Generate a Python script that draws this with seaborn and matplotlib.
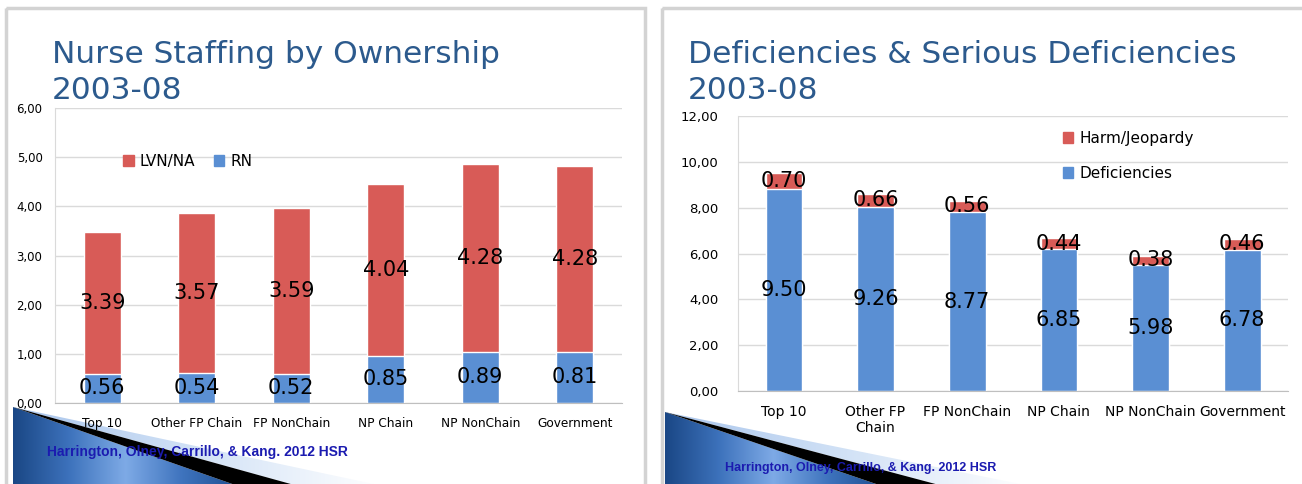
import numpy as np
import pandas as pd
import seaborn as sns
import matplotlib.pyplot as plt
from matplotlib.patches import Patch, Polygon, Rectangle
from matplotlib.colors import LinearSegmentedColormap

# --- data ---
staff_cats = ['Top 10', 'Other FP Chain', 'FP NonChain', 'NP Chain', 'NP NonChain', 'Government']
rn_bar = [0.59, 0.62, 0.59, 0.96, 1.04, 1.04]
lvn_bar = [2.88, 3.24, 3.38, 3.49, 3.83, 3.79]
rn_labels = ['0.56', '0.54', '0.52', '0.85', '0.89', '0.81']
lvn_labels = ['3.39', '3.57', '3.59', '4.04', '4.28', '4.28']

def_cats = ['Top 10', 'Other FP\nChain', 'FP NonChain', 'NP Chain', 'NP NonChain', 'Government']
def_bar = [8.81, 8.04, 7.80, 6.20, 5.50, 6.17]
harm_bar = [0.70, 0.57, 0.51, 0.46, 0.39, 0.46]
def_labels = ['9.50', '9.26', '8.77', '6.85', '5.98', '6.78']
harm_labels = ['0.70', '0.66', '0.56', '0.44', '0.38', '0.46']

staff_title = ['Nurse Staffing by Ownership', '2003-08']
def_title = ['Deficiencies & Serious Deficiencies', '2003-08']
citation = 'Harrington, Olney, Carrillo, & Kang. 2012 HSR'

RED = '#D85B57'
BLUE = '#5A8FD3'
TITLE_COL = '#2C5A8D'
W, H = 1302, 484

sns.set_style('white')
plt.rcParams['font.family'] = ['DejaVu Sans']
plt.rcParams['text.color'] = 'black'
plt.rcParams['xtick.color'] = 'black'
plt.rcParams['ytick.color'] = 'black'

fig = plt.figure(figsize=(W / 100, H / 100), dpi=100)

# background layer in pixel coordinates: slide frames + corner decoration
bg = fig.add_axes([0, 0, 1, 1], zorder=0)
bg.axis('off')
for x0, x1 in [(6, 645), (662, 1310)]:
    bg.add_patch(Rectangle((x0, 8), x1 - x0, 500, fill=False, ec='#D3D3D3', lw=2.5))

blue_cm = LinearSegmentedColormap.from_list('b', ['#1A4785', '#3D72BC', '#7EAAE6', '#3F74BE', '#1E4F92'])
pale_cm = LinearSegmentedColormap.from_list('p', ['#A9C5EC', '#D2E2F6', '#FFFFFF'])


def corner(x0, y0, xb, xk, xp):
    grad = np.linspace(0, 1, 256).reshape(1, -1)
    tri = Polygon([(x0, y0), (x0, H + 2), (xb, H + 2)], closed=True, fc='none', ec='none')
    bg.add_patch(tri)
    im = bg.imshow(grad, cmap=blue_cm, extent=[x0, xb, H + 2, y0], aspect='auto')
    im.set_clip_path(tri)
    bg.add_patch(Polygon([(x0, y0), (xb, H + 2), (xk, H + 2)], closed=True, fc='black', ec='none'))
    pale = Polygon([(x0, y0), (xk, H + 2), (xp, H + 2)], closed=True, fc='none', ec='none')
    bg.add_patch(pale)
    im2 = bg.imshow(grad, cmap=pale_cm, extent=[x0, xp, H + 2, y0], aspect='auto')
    im2.set_clip_path(pale)


corner(13, 407, 238, 298, 383)
corner(665, 412, 882, 943, 1030)
bg.set_xlim(0, W)
bg.set_ylim(H, 0)


def px_axes(left, top, right, bottom):
    return fig.add_axes([left / W, 1 - bottom / H, (right - left) / W, (bottom - top) / H], zorder=1)


def style_axes(ax, ymax, step, ysize, xsize, ypad):
    n = 6
    ax.set_facecolor('none')
    ax.set_ylim(0, ymax)
    ax.set_xlim(-0.5, n - 0.5)
    ticks = np.arange(0, ymax + step / 2, step)
    ax.set_yticks(ticks)
    ax.set_yticklabels([f'{v:.2f}'.replace('.', ',') for v in ticks], fontsize=ysize)
    ax.yaxis.grid(True, color='#DADADA', lw=1)
    ax.set_axisbelow(True)
    ax.tick_params(axis='y', length=0, pad=ypad)
    ax.tick_params(axis='x', which='major', length=0, pad=10, labelsize=xsize)
    ax.set_xticks(np.arange(-0.5, n), minor=True)
    ax.tick_params(axis='x', which='minor', length=5, color='#BFBFBF', width=1)
    for s in ['top', 'right']:
        ax.spines[s].set_visible(False)
    ax.spines['left'].set_color('#DADADA')
    ax.spines['bottom'].set_color('#BFBFBF')
    ax.set_xlabel('')
    ax.set_ylabel('')


# --- left slide: nurse staffing ---
df1 = pd.DataFrame({'cat': staff_cats, 'RN': rn_bar, 'LVN': lvn_bar})
df1['total'] = df1['RN'] + df1['LVN']
ax1 = px_axes(55, 108, 622, 403)
sns.barplot(data=df1, x='cat', y='total', color=RED, width=0.39, saturation=1, ax=ax1)
sns.barplot(data=df1, x='cat', y='RN', color=BLUE, width=0.39, saturation=1, ax=ax1)
style_axes(ax1, 6, 1, 8.5, 8.7, 9)
for i, row in df1.iterrows():
    ax1.text(i, row['RN'] / 2, rn_labels[i], ha='center', va='center', fontsize=15)
    ax1.text(i, row['RN'] + row['LVN'] / 2, lvn_labels[i], ha='center', va='center', fontsize=15)
ax1.legend(handles=[Patch(color=RED, label='LVN/NA'), Patch(color=BLUE, label='RN')],
           ncol=2, frameon=False, loc='center left', bbox_to_anchor=(0.12, 0.82),
           fontsize=11, handlelength=0.7, handleheight=0.7, handletextpad=0.4,
           columnspacing=1.2, borderpad=0, borderaxespad=0)

# --- right slide: deficiencies ---
df2 = pd.DataFrame({'cat': def_cats, 'Def': def_bar, 'Harm': harm_bar})
df2['total'] = df2['Def'] + df2['Harm']
ax2 = px_axes(738, 116, 1288, 391)
sns.barplot(data=df2, x='cat', y='total', color=RED, width=0.40, saturation=1, ax=ax2)
sns.barplot(data=df2, x='cat', y='Def', color=BLUE, width=0.40, saturation=1, ax=ax2)
style_axes(ax2, 12, 2, 9.5, 10, 14)
for i, row in df2.iterrows():
    ax2.text(i, row['Def'] / 2, def_labels[i], ha='center', va='center', fontsize=15)
    ax2.text(i, row['Def'] + row['Harm'] / 2, harm_labels[i], ha='center', va='center', fontsize=15)
ax2.legend(handles=[Patch(color=RED, label='Harm/Jeopardy'), Patch(color=BLUE, label='Deficiencies')],
           ncol=1, frameon=False, loc='center left', bbox_to_anchor=(0.59, 0.855),
           fontsize=11, handlelength=0.7, handleheight=0.7, handletextpad=0.4,
           labelspacing=1.35, borderpad=0, borderaxespad=0)

# --- titles and citations ---
for (x, y), lines in [((52, 63), staff_title), ((688, 63), def_title)]:
    for k, line in enumerate(lines):
        fig.text(x / W, 1 - (y + 36 * k) / H, line, fontsize=22.5, color=TITLE_COL,
                 va='baseline', ha='left', zorder=5)

cite_font = ['Liberation Sans Narrow', 'Liberation Sans', 'DejaVu Sans']
fig.text(47 / W, 1 - 452 / H, citation, family=cite_font, fontweight='bold', fontsize=10,
         color='#1B1BB0', va='center', zorder=5)
fig.text(725 / W, 1 - 468 / H, citation, family=cite_font, fontweight='bold', fontsize=9,
         color='#1B1BB0', va='center', zorder=5)

fig.savefig('out.png', dpi=100)
